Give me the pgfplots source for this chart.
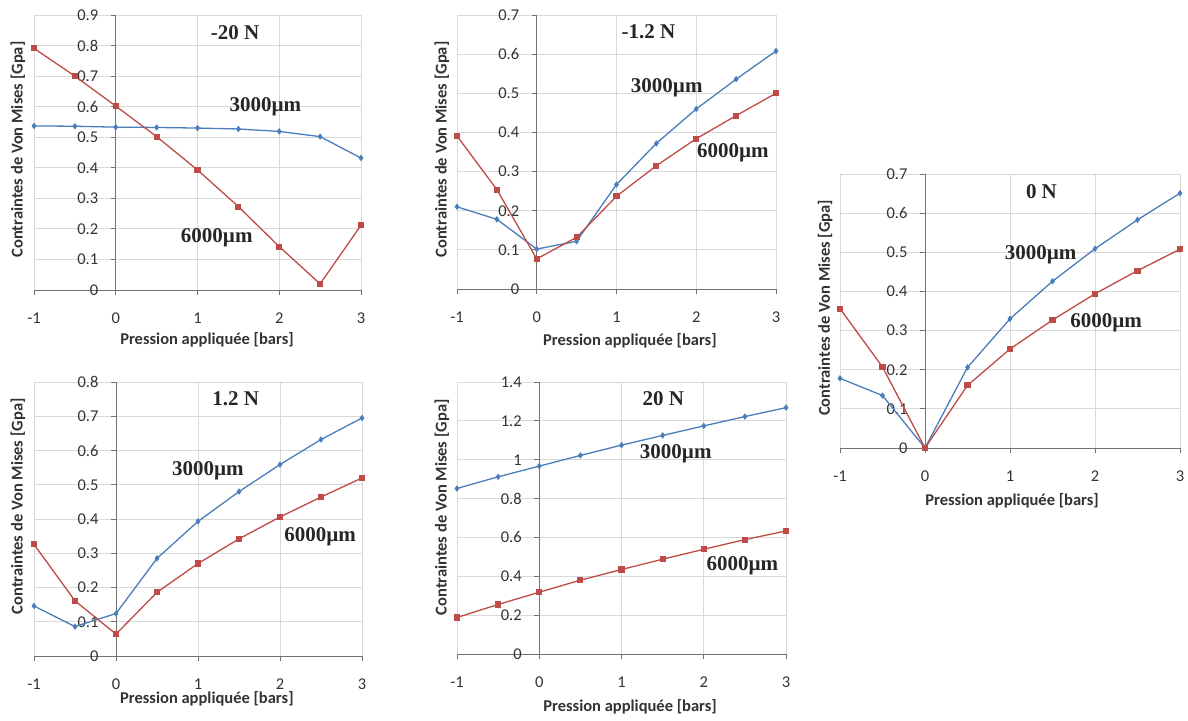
\documentclass[border=0pt]{standalone}
\usepackage{fontspec}
\setmainfont{Carlito}
\newfontfamily\tnr{Liberation Serif}
\usepackage{pgfplots}
\pgfplotsset{compat=1.18}
\definecolor{exblue}{HTML}{4A7EBB}
\definecolor{exred}{HTML}{BE4B48}
\definecolor{gridc}{HTML}{D9D9D9}
\tikzset{ann/.style={font=\tnr\bfseries\fontsize{21}{24}\selectfont, text=black!85}}
\pgfplotsset{
  vm/.style={
    scale only axis,
    anchor=south west,
    axis x line=bottom,
    axis y line=center,
    axis line style={-, black!55, line width=1pt},
    xmin=-1, xmax=3, ymin=0,
    xtick={-1,0,1,2,3},
    grid=major,
    major grid style={gridc, line width=0.9pt},
    hide obscured x ticks=false,
    hide obscured y ticks=false,
    tick align=outside,
    major tick length=5pt,
    tick style={black!55, line width=0.9pt},
    /pgf/number format/assume math mode=true,
    ticklabel style={font=\fontsize{16.5}{18}\selectfont, text=black!80},
    xticklabel shift=14pt,
    yticklabel shift=9pt,
    every axis x label/.style={anchor=center, font=\bfseries\fontsize{16.5}{18}\selectfont, text=black!80},
    every axis y label/.style={anchor=center, rotate=90, font=\bfseries\fontsize{16.5}{18}\selectfont, text=black!80},
    xlabel={Pression appliquée [bars]},
    ylabel={Contraintes de Von Mises [Gpa]},
  },
  s3/.style={exblue, line width=1.3pt, mark=diamond*, mark size=2.2pt, mark options={fill=exblue, draw=exblue}},
  s6/.style={exred, line width=1.3pt, mark=square*, mark size=2.4pt, mark options={fill=exred, draw=exred}},
}
\begin{document}
\begin{tikzpicture}
\path[use as bounding box] (0pt,0pt) rectangle (1188pt,-720pt);

% Panel 1: -20 N
\begin{axis}[vm, at={(34pt,-290pt)}, width=327pt, height=275pt,
  ymax=0.9, ytick distance=0.1,
  xlabel style={at={(axis description cs:0.529,-0.182)}},
  ylabel style={at={(axis description cs:-0.049,0.511)}}]
\addplot[s3] coordinates {(-1,0.537) (-0.5,0.536) (0,0.533) (0.5,0.532) (1,0.530) (1.5,0.527) (2,0.519) (2.5,0.502) (3,0.432)};
\addplot[s6] coordinates {(-1,0.791) (-0.5,0.700) (0,0.602) (0.5,0.502) (1,0.393) (1.5,0.273) (2,0.142) (2.5,0.020) (3,0.212)};
\node[ann] at (axis cs:1.46,0.844) {-20 N};
\node[ann] at (axis cs:1.83,0.599) {3000µm};
\node[ann] at (axis cs:1.235,0.172) {6000µm};
\end{axis}

% Panel 2: -1.2 N
\begin{axis}[vm, at={(457pt,-289pt)}, width=319pt, height=274pt,
  ymax=0.7, ytick distance=0.1,
  xlabel style={at={(axis description cs:0.542,-0.190)}},
  ylabel style={at={(axis description cs:-0.047,0.509)}}]
\addplot[s3] coordinates {(-1,0.210) (-0.5,0.178) (0,0.102) (0.5,0.122) (1,0.267) (1.5,0.372) (2,0.460) (2.5,0.536) (3,0.608)};
\addplot[s6] coordinates {(-1,0.391) (-0.5,0.254) (0,0.077) (0.5,0.132) (1,0.237) (1.5,0.315) (2,0.384) (2.5,0.443) (3,0.500)};
\node[ann] at (axis cs:1.40,0.657) {-1.2 N};
\node[ann] at (axis cs:1.63,0.515) {3000µm};
\node[ann] at (axis cs:2.46,0.349) {6000µm};
\end{axis}

% Panel 3: 0 N
\begin{axis}[vm, at={(840pt,-448pt)}, width=340pt, height=274pt,
  ymax=0.7, ytick distance=0.1,
  xlabel style={at={(axis description cs:0.506,-0.193)}},
  ylabel style={at={(axis description cs:-0.044,0.511)}}]
\addplot[s3] coordinates {(-1,0.178) (-0.5,0.134) (0,0) (0.5,0.206) (1,0.330) (1.5,0.426) (2,0.509) (2.5,0.583) (3,0.651)};
\addplot[s6] coordinates {(-1,0.356) (-0.5,0.207) (0,0) (0.5,0.160) (1,0.253) (1.5,0.327) (2,0.394) (2.5,0.453) (3,0.508)};
\node[ann] at (axis cs:1.37,0.655) {0 N};
\node[ann] at (axis cs:1.36,0.493) {3000µm};
\node[ann] at (axis cs:2.13,0.320) {6000µm};
\end{axis}

% Panel 4: 1.2 N
\begin{axis}[vm, at={(34pt,-656pt)}, width=328pt, height=274pt,
  ymax=0.8, ytick distance=0.1,
  xlabel style={at={(axis description cs:0.527,-0.157)}},
  ylabel style={at={(axis description cs:-0.049,0.546)}}]
\addplot[s3] coordinates {(-1,0.146) (-0.5,0.086) (0,0.124) (0.5,0.285) (1,0.393) (1.5,0.480) (2,0.559) (2.5,0.632) (3,0.695)};
\addplot[s6] coordinates {(-1,0.326) (-0.5,0.161) (0,0.064) (0.5,0.186) (1,0.270) (1.5,0.342) (2,0.406) (2.5,0.464) (3,0.520)};
\node[ann] at (axis cs:1.46,0.752) {1.2 N};
\node[ann] at (axis cs:1.12,0.541) {3000µm};
\node[ann] at (axis cs:2.49,0.347) {6000µm};
\end{axis}

% Panel 5: 20 N
\begin{axis}[vm, at={(457pt,-654pt)}, width=329pt, height=272pt,
  ymax=1.4, ytick distance=0.2,
  xlabel style={at={(axis description cs:0.526,-0.195)}},
  ylabel style={at={(axis description cs:-0.046,0.539)}}]
\addplot[s3] coordinates {(-1,0.852) (-0.5,0.912) (0,0.967) (0.5,1.022) (1,1.075) (1.5,1.125) (2,1.174) (2.5,1.222) (3,1.268)};
\addplot[s6] coordinates {(-1,0.188) (-0.5,0.255) (0,0.318) (0.5,0.380) (1,0.435) (1.5,0.488) (2,0.539) (2.5,0.589) (3,0.633)};
\node[ann] at (axis cs:1.51,1.316) {20 N};
\node[ann] at (axis cs:1.66,1.029) {3000µm};
\node[ann] at (axis cs:2.47,0.453) {6000µm};
\end{axis}
\end{tikzpicture}
\end{document}
